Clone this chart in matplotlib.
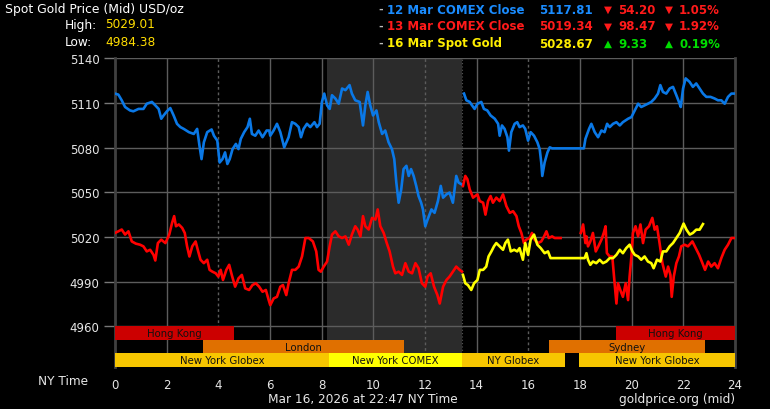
import matplotlib
matplotlib.use("Agg")
import matplotlib.pyplot as plt
from matplotlib.patches import Rectangle

# ---------------- data ----------------
blue_a_h = [0.00,0.13,0.26,0.39,0.58,0.71,0.91,1.10,1.23,1.43,1.56,1.69,1.79,1.88,2.01,2.14,2.27,2.40,2.53,2.66,2.86,3.05,3.18,3.27,3.35,3.44,3.57,3.74,3.83,3.96,4.05,4.16,4.26,4.35,4.44,4.55,4.68,4.78,4.87,5.00,5.13,5.22,5.30,5.43,5.56,5.71,5.87,5.97,
            6.01,6.14,6.27,6.40,6.55,6.72,6.85,6.98,7.11,7.20,7.30,7.43,7.56,7.72,7.82,7.92,8.01,8.10,8.21,8.31,8.40,8.53,8.66,8.79,8.92,9.08,9.17,9.30,9.47,9.60,9.69,9.78,9.88,9.99,10.12,10.21,10.34,10.46,10.59,10.72,10.81,10.89,10.98,11.08,11.17,11.28,11.37,11.46,11.56,11.66,11.75,11.85,11.92,12.01,12.10,
            12.25,12.37,12.50,12.61,12.70,12.83,12.95,13.08,13.21,13.30,13.41]
blue_a_v = [5116.3,5115.6,5111.8,5107.3,5105.0,5104.4,5106.0,5106.0,5109.5,5110.7,5108.4,5106.0,5099.4,5101.6,5104.4,5106.6,5101.6,5096.0,5093.8,5092.6,5090.4,5089.2,5092.6,5081.3,5072.3,5083.6,5090.4,5092.2,5088.0,5084.7,5070.0,5072.3,5076.8,5069.0,5072.3,5079.0,5082.5,5079.0,5085.9,5090.4,5093.8,5099.4,5089.2,5088.0,5091.5,5087.0,5091.5,5091.5,
            5088.0,5091.5,5096.0,5090.4,5080.2,5087.0,5097.1,5096.0,5093.8,5087.0,5092.6,5096.0,5093.8,5097.1,5093.8,5096.0,5110.7,5116.3,5108.4,5106.0,5115.2,5113.0,5109.5,5119.7,5118.6,5122.0,5116.3,5111.8,5110.7,5094.9,5108.4,5117.4,5108.4,5101.6,5105.0,5097.1,5089.2,5091.5,5083.6,5079.0,5072.3,5056.5,5043.0,5052.0,5065.6,5067.8,5061.0,5065.6,5061.0,5054.3,5047.5,5043.0,5038.5,5027.2,5031.7,
            5038.5,5036.2,5044.1,5054.3,5046.4,5048.6,5049.8,5043.0,5061.0,5056.5,5055.4]

blue_b_h = [13.51,13.60,13.73,13.82,13.92,14.03,14.18,14.28,14.41,14.54,14.70,14.83,14.89,14.98,15.08,15.19,15.25,15.34,15.47,15.57,15.66,15.79,15.88,15.99,16.09,16.22,16.35,16.44,16.50,16.54,16.63,16.74,16.83,16.92,18.15,18.21,
            18.35,18.44,18.57,18.70,18.83,18.95,19.05,19.15,19.28,19.41,19.54,19.66,19.86,19.99,20.12,20.25,20.37,20.50,20.63,20.76,20.89,21.02,21.11,21.21,21.34,21.47,21.60,21.73,21.83,21.90,21.99,22.09,22.24,22.37,22.50,22.63,22.76,22.89,23.05,23.21,23.34,23.47,23.60,23.73,23.86,23.99]
blue_b_v = [5116.3,5111.8,5110.7,5108.4,5106.0,5109.5,5110.7,5106.0,5105.0,5101.6,5099.4,5096.0,5088.0,5094.9,5092.6,5087.0,5078.0,5090.4,5096.0,5097.1,5093.8,5094.9,5092.6,5084.7,5090.4,5088.0,5083.6,5079.0,5070.0,5061.0,5070.0,5076.8,5080.2,5079.5,5079.5,5085.9,
            5092.6,5096.0,5090.4,5087.0,5091.5,5090.4,5096.0,5093.8,5096.0,5097.1,5094.9,5097.1,5099.4,5100.5,5105.0,5109.5,5107.3,5108.4,5109.5,5110.7,5113.0,5116.3,5122.0,5117.4,5116.3,5119.7,5120.8,5115.2,5110.7,5107.3,5119.7,5126.5,5124.2,5120.8,5123.1,5119.7,5116.3,5114.1,5114.1,5113.0,5111.8,5111.8,5109.5,5114.1,5116.3,5116.3]

red_a_h = [0.00,0.13,0.26,0.39,0.52,0.65,0.81,0.97,1.10,1.23,1.36,1.49,1.56,1.66,1.79,1.95,2.10,2.21,2.29,2.36,2.47,2.60,2.70,2.79,2.88,2.99,3.12,3.22,3.31,3.44,3.57,3.66,3.77,3.90,4.00,4.09,4.18,4.31,4.42,4.52,4.65,4.78,4.91,5.04,5.19,5.32,5.45,5.58,5.71,5.84,5.95,
           6.01,6.14,6.27,6.40,6.50,6.63,6.72,6.85,6.98,7.11,7.24,7.37,7.50,7.66,7.79,7.88,7.97,8.08,8.21,8.31,8.40,8.53,8.66,8.79,8.92,9.05,9.17,9.30,9.39,9.50,9.60,9.69,9.82,9.95,10.08,10.17,10.27,10.40,10.52,10.63,10.76,10.85,10.98,11.11,11.24,11.37,11.50,11.63,11.75,11.88,12.01,12.10,
           12.22,12.35,12.48,12.57,12.70,12.83,12.95,13.08,13.21,13.34,13.43]
red_a_v = [5022.7,5023.8,5025.0,5021.6,5023.8,5017.0,5015.5,5014.8,5013.7,5010.3,5011.4,5008.0,5004.2,5015.9,5018.2,5015.9,5021.6,5029.5,5034.0,5027.2,5028.4,5026.1,5022.7,5013.7,5006.9,5013.7,5017.0,5010.3,5004.7,5002.4,5004.7,4997.9,4996.7,4995.6,4993.4,4997.9,4991.1,4997.9,5001.3,4994.5,4986.6,4992.2,4994.5,4985.5,4984.4,4987.7,4988.9,4986.6,4983.2,4984.4,4977.6,
           4974.2,4978.7,4979.8,4986.6,4987.7,4981.0,4988.9,4997.9,4997.9,5000.1,5006.9,5019.3,5019.3,5017.0,5010.3,4997.9,4996.7,5000.1,5003.5,5013.7,5021.6,5023.8,5020.4,5019.3,5020.4,5014.8,5021.6,5027.2,5025.0,5020.4,5034.0,5027.2,5025.0,5032.8,5031.7,5038.5,5027.2,5022.7,5015.9,5010.3,5000.1,4995.6,4996.7,4994.5,5002.4,4996.7,4995.6,5002.4,4999.0,4988.9,4986.6,4993.4,
           4995.6,4986.6,4981.0,4975.3,4986.6,4991.1,4993.4,4996.7,5000.1,4997.9,4996.7]

red_b_h = [13.47,13.56,13.64,13.73,13.86,14.03,14.12,14.25,14.34,14.44,14.54,14.63,14.76,14.89,15.02,15.15,15.28,15.41,15.54,15.63,15.73,15.83,15.92,16.05,16.14,16.24,16.37,16.50,16.61,16.70,16.79,16.92,17.02,17.25]
red_b_v = [5054.3,5061.0,5058.8,5052.0,5046.4,5048.6,5044.1,5043.0,5035.0,5044.1,5047.5,5043.0,5046.4,5044.1,5048.6,5040.7,5036.2,5037.3,5034.0,5027.2,5022.7,5015.9,5018.2,5019.3,5022.7,5018.2,5015.9,5017.0,5020.4,5023.8,5019.3,5020.4,5019.3,5019.3]

red_c_h = [18.03,18.12,18.21,18.25,18.31,18.40,18.50,18.61,18.71,18.83,18.92,18.99,19.04,19.15,19.25,19.34,19.41,19.47,19.56,19.66,19.77,19.86,19.92,19.99,20.05,20.15,20.25,20.34,20.44,20.54,20.67,20.80,20.89,20.98,21.08,21.19,21.32,21.41,21.50,21.55,21.63,21.73,21.83,21.92,22.05,22.18,22.35,22.48,22.61,22.74,22.84,22.96,23.08,23.21,23.34,23.47,23.60,23.73,23.86,23.99]
red_c_v = [5022.7,5028.4,5015.9,5020.4,5013.7,5017.0,5022.7,5010.3,5013.7,5018.2,5022.7,5027.2,5009.2,5006.9,5006.9,4988.9,4975.3,4988.9,4984.4,4979.8,4988.9,4977.6,4993.4,5006.9,5022.7,5027.2,5020.4,5028.4,5015.9,5024.9,5027.2,5032.8,5024.9,5027.2,5015.9,5002.4,4993.4,5000.1,4994.5,4979.8,4993.4,5002.4,5006.9,5013.7,5014.8,5013.7,5017.0,5012.5,5008.0,5002.4,4997.9,5003.5,5000.1,5002.4,4999.0,5005.8,5011.4,5014.8,5019.3,5019.3]

yellow_h = [13.47,13.56,13.66,13.79,13.90,14.03,14.12,14.25,14.37,14.46,14.57,14.67,14.76,14.89,15.02,15.11,15.21,15.32,15.45,15.57,15.66,15.79,15.88,15.99,16.09,16.22,16.35,16.48,16.63,16.76,16.86,18.18,
            18.25,18.31,18.40,18.50,18.63,18.76,18.89,19.02,19.15,19.28,19.41,19.54,19.66,19.79,19.92,20.03,20.12,20.25,20.37,20.50,20.63,20.76,20.85,20.98,21.11,21.21,21.34,21.47,21.60,21.73,21.86,22.01,22.12,22.25,22.37,22.50,22.63,22.76]
yellow_v = [4994.5,4988.9,4987.7,4984.4,4988.9,4991.1,4997.9,4997.9,5000.1,5006.9,5010.3,5013.7,5015.9,5013.7,5011.4,5015.9,5018.2,5010.3,5011.4,5010.3,5012.5,5004.7,5015.9,5008.0,5018.2,5021.6,5014.8,5012.5,5009.1,5010.3,5005.8,5005.8,
            5009.1,5004.7,5001.3,5003.5,5002.4,5004.7,5002.4,5003.5,5005.8,5005.8,5008.0,5011.4,5009.1,5012.5,5014.8,5010.3,5008.0,5006.9,5004.7,5006.9,5003.5,5002.4,4999.0,5004.7,5003.5,5010.3,5010.3,5013.7,5015.9,5019.3,5022.7,5029.0,5024.9,5021.6,5022.7,5024.9,5024.9,5028.67]

y_ticks = [4960, 4990, 5020, 5050, 5080, 5110, 5140]
x_ticks = list(range(0, 25, 2))

legend_names = ["12 Mar COMEX Close", "13 Mar COMEX Close", "16 Mar Spot Gold"]
legend_prices = ["5117.81", "5019.34", "5028.67"]
legend_changes = ["54.20", "98.47", "9.33"]
legend_pcts = ["1.05%", "1.92%", "0.19%"]
legend_up = [False, False, True]

high_val = "5029.01"
low_val = "4984.38"

comex_start, comex_end = 8.22, 13.42

# sessions: (label, start, end, row, colour)  row 0 = top
sessions = [
    ("Hong Kong", 0.0, 4.6, 0, "#cc0000"),
    ("Hong Kong", 19.38, 24.0, 0, "#cc0000"),
    ("London", 3.41, 11.17, 1, "#e07000"),
    ("Sydney", 16.81, 22.85, 1, "#e07000"),
    ("New York Globex", 0.0, 8.27, 2, "#f7c600"),
    ("New York COMEX", 8.27, 13.42, 2, "#ffff00"),
    ("NY Globex", 13.42, 17.42, 2, "#f7c600"),
    ("New York Globex", 17.98, 24.0, 2, "#f7c600"),
]

# ---------------- figure ----------------
W, H = 770, 410
fig = plt.figure(figsize=(W / 100, H / 100), dpi=100, facecolor="black")
plt.rcParams['font.family'] = ['DejaVu Sans']

ax_left, ax_right, ax_top, ax_bottom = 115, 735, 59.3, 368.3
ax = fig.add_axes([ax_left / W, 1 - ax_bottom / H, (ax_right - ax_left) / W, (ax_bottom - ax_top) / H])
ax.set_facecolor("black")

px_per_unit = (327.3 - 59.3) / 180.0
ymin = 5140 - (ax_bottom - ax_top) / px_per_unit
ax.set_xlim(0, 24)
ax.set_ylim(ymin, 5140)

def val_of_px(py):
    return 5140 - (py - ax_top) / px_per_unit

# shaded COMEX region
ax.axvspan(comex_start, comex_end, color="#2b2b2b", zorder=0, lw=0)

grid_c = "#5c5c5c"
for yv in y_ticks:
    ax.axhline(yv, color=grid_c, lw=1, zorder=1)
for xv in x_ticks[1:-1]:
    ls = (0, (2, 2)) if xv in (4, 12, 16) else "-"
    ax.axvline(xv, color=grid_c, lw=1, zorder=1, ls=ls)
ax.axvline(comex_end, color="#555555", lw=0.8, ls=(0, (1, 2)), zorder=1)

# series
lw = 1.9
ax.plot(blue_a_h, blue_a_v, color="#0a78e6", lw=lw, zorder=3)
ax.plot(blue_b_h, blue_b_v, color="#0a78e6", lw=lw, zorder=3)
ax.plot(red_a_h, red_a_v, color="#ff0000", lw=lw, zorder=4)
ax.plot(red_b_h, red_b_v, color="#ff0000", lw=lw, zorder=4)
ax.plot(red_c_h, red_c_v, color="#ff0000", lw=lw, zorder=4)
ax.plot(yellow_h, yellow_v, color="#ffff00", lw=lw, zorder=5)

# session bars
row_px = [(327.3, 341.0), (341.0, 354.3), (354.3, 368.3)]
for label, s, e, row, col in sessions:
    top = val_of_px(row_px[row][0])
    bot = val_of_px(row_px[row][1])
    ax.add_patch(Rectangle((s, bot), e - s, top - bot, facecolor=col, edgecolor="none",
                           lw=0, zorder=6, clip_on=False))
    ax.text((s + e) / 2, (top + bot) / 2, label, ha="center", va="center", fontsize=7.3,
            color="#111111", zorder=7)

# spines
for sp in ["top", "bottom"]:
    ax.spines[sp].set_visible(False)
for sp in ["left", "right"]:
    ax.spines[sp].set_color("#404040")
    ax.spines[sp].set_linewidth(2)
    ax.spines[sp].set_zorder(2)

ax.set_yticks(y_ticks)
ax.set_yticklabels([str(v) for v in y_ticks])
ax.set_xticks(x_ticks)
ax.set_xticklabels([str(v) for v in x_ticks])
ax.tick_params(axis="y", colors="#777777", labelcolor="#e6e6e6", length=8, width=1, pad=3, labelsize=8.5)
ax.tick_params(axis="x", colors="#777777", labelcolor="#e6e6e6", length=0, width=1, pad=8, labelsize=8.5)

# ---------------- header texts ----------------
def fx(x):
    return x / W

def fy(y):
    return 1 - y / H

fig.text(fx(5), fy(9), "Spot Gold Price (Mid) USD/oz", color="white", fontsize=8.9, va="center", ha="left")
fig.text(fx(65), fy(25), "High:", color="white", fontsize=8.7, va="center", ha="left")
fig.text(fx(105), fy(25), high_val, color="#ffdd00", fontsize=8.7, va="center", ha="left")
fig.text(fx(65), fy(43), "Low:", color="white", fontsize=8.7, va="center", ha="left")
fig.text(fx(105), fy(43), low_val, color="#ffdd00", fontsize=8.7, va="center", ha="left")

name_cols = ["#1a8cff", "#ff1a1a", "#ffee00"]
row_y = [10, 27, 44]
for i in range(3):
    y = fy(row_y[i])
    fig.text(fx(378), y, "-", color="#bbbbbb", fontsize=8, va="center", ha="left", fontweight="bold")
    fig.text(fx(387), y, legend_names[i], color=name_cols[i], fontsize=8.5, va="center", ha="left", fontweight="bold")
    fig.text(fx(593), y, legend_prices[i], color=name_cols[i], fontsize=8.5, va="center", ha="right", fontweight="bold")
    ccol = "#00dd00" if legend_up[i] else "#ff1a1a"
    tri = "\u25B2" if legend_up[i] else "\u25BC"
    fig.text(fx(604), y, tri, color=ccol, fontsize=7.5, va="center", ha="left")
    fig.text(fx(618), y, legend_changes[i], color=ccol, fontsize=8.5, va="center", ha="left", fontweight="bold")
    fig.text(fx(665), y, tri, color=ccol, fontsize=7.5, va="center", ha="left")
    fig.text(fx(679), y, legend_pcts[i], color=ccol, fontsize=8.5, va="center", ha="left", fontweight="bold")

# ---------------- footer texts ----------------
fig.text(fx(38), fy(382), "NY Time", color="#e6e6e6", fontsize=8.7, va="center", ha="left")
fig.text(fx(363), fy(399.5), "Mar 16, 2026 at 22:47 NY Time", color="#e6e6e6", fontsize=8.7, va="center", ha="center")
fig.text(fx(735), fy(399.5), "goldprice.org (mid)", color="#e6e6e6", fontsize=8.7, va="center", ha="right")

fig.savefig("out.png", dpi=100, facecolor="black")
